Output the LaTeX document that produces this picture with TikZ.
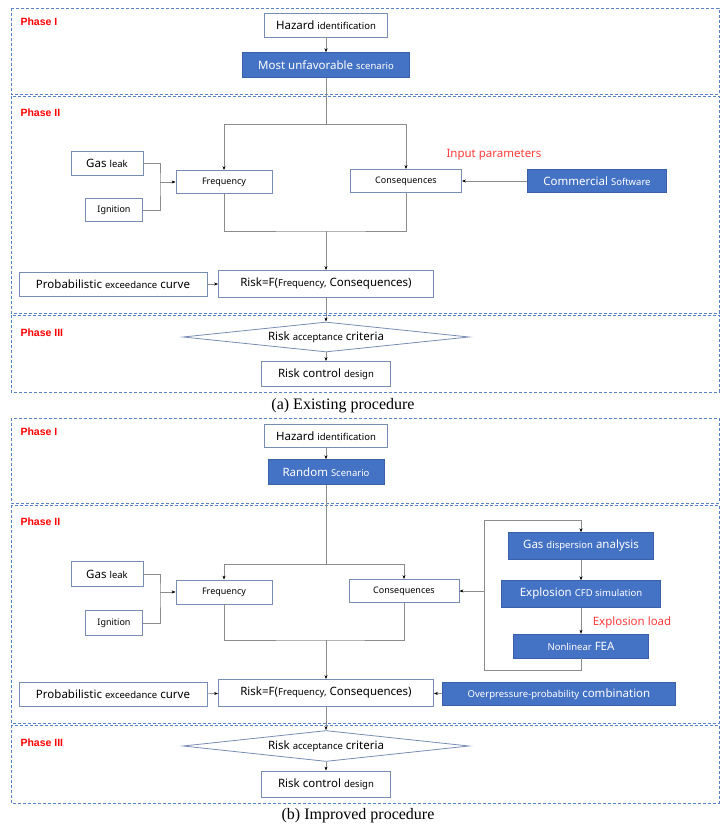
\documentclass[tikz,border=0pt]{standalone}
\usepackage{fontspec}
\setmainfont{Liberation Serif}
\newfontfamily\uifont{Noto Sans}
\newfontfamily\tagfont{Liberation Sans}
\usetikzlibrary{arrows.meta,shapes.geometric}
\definecolor{boxblue}{RGB}{68,114,196}
\definecolor{boxedge}{RGB}{120,140,180}
\definecolor{phaseblue}{RGB}{90,130,200}
\definecolor{linegray}{RGB}{140,140,140}
\definecolor{inputred}{RGB}{255,60,60}
\newcommand{\sm}[1]{{\fontsize{9.5}{11}\selectfont #1}}

\begin{document}
\begin{tikzpicture}[x=1pt, y=-1pt,
    every node/.style={font=\uifont\fontsize{11.5}{14}\selectfont},
    plain/.style={draw=boxedge, fill=white, inner sep=0pt, line width=0.8pt},
    filled/.style={draw=boxblue!85!black, fill=boxblue, text=white, inner sep=0pt},
    phase/.style={draw=phaseblue, dash pattern=on 3pt off 2pt, line width=0.9pt},
    phasetag/.style={anchor=west, text=red, font=\tagfont\bfseries\fontsize{10.5}{12}\selectfont},
    line/.style={draw=linegray, line width=0.6pt},
    arr/.style={line, -{Stealth[length=4pt, width=3pt, color=black]}},
    caption/.style={font=\rmfamily\fontsize{16}{19}\selectfont}]
    \useasboundingbox (0,0) rectangle (721,829);

    % (a) Existing procedure
    \draw[phase] (11,8) rectangle (719,94);
    \draw[phase] (11,96) rectangle (719,313);
    \draw[phase] (11,315) rectangle (719,392);
    \node[phasetag] (p1A) at (17,22) {Phase I};
    \node[phasetag] (p2A) at (17,113) {Phase II};
    \node[phasetag] (p3A) at (17,333) {Phase III};

    \node[plain, minimum width=123, minimum height=24] (hazA) at (326,25) {Hazard \sm{identification}};
    \node[filled, minimum width=167, minimum height=25] (scenA) at (326,65) {Most unfavorable \sm{scenario}};
    \coordinate (splitA) at (326,124);
    \node[plain, minimum width=96, minimum height=23, font=\uifont\small] (freqA) at (224,182) {Frequency};
    \node[plain, minimum width=111, minimum height=23, font=\uifont\small] (consA) at (406,181) {Consequences};
    \node[plain, minimum width=72, minimum height=24] (gasA) at (107,163) {Gas \sm{leak}};
    \node[plain, minimum width=57, minimum height=23, font=\uifont\small] (ignA) at (114,210) {Ignition};
    \coordinate (joinA) at (160,182);
    \node[filled, minimum width=139, minimum height=23] (softA) at (597,181) {Commercial \sm{Software}};
    \node[text=inputred] (inA) at (494,155) {Input parameters};
    \coordinate (mergeA) at (326,231);
    \node[plain, minimum width=215, minimum height=27] (riskA) at (326,284) {Risk=F(\sm{Frequency,} Consequences)};
    \node[plain, minimum width=188, minimum height=24] (probA) at (113,284) {Probabilistic \sm{exceedance} curve};
    \node[plain, diamond, aspect=9.5, minimum width=286, minimum height=30] (critA) at (326,337) {Risk \sm{acceptance} criteria};
    \node[plain, minimum width=129, minimum height=25] (ctrlA) at (326,374) {Risk control \sm{design}};
    \node[caption] (capA) at (343,406) {(a) Existing procedure};

    \draw[arr] (hazA) -- (scenA);
    \draw[line] (scenA) -- (splitA);
    \draw[arr] (splitA) -| (freqA);
    \draw[arr] (splitA) -| (consA);
    \draw[line] (gasA) -| (joinA) |- (ignA);
    \draw[arr] (joinA) -- (freqA);
    \draw[arr] (softA) -- (consA);
    \draw[line] (freqA) |- (mergeA) -| (consA);
    \draw[arr] (mergeA) -- (riskA);
    \draw[arr] (probA) -- (riskA);
    \draw[arr] (riskA) -- (critA);
    \draw[arr] (critA) -- (ctrlA);

    % (b) Improved procedure
    \draw[phase] (11,418) rectangle (719,503);
    \draw[phase] (11,505) rectangle (719,723);
    \draw[phase] (11,725) rectangle (719,803);
    \node[phasetag] (p1B) at (17,432) {Phase I};
    \node[phasetag] (p2B) at (17,522) {Phase II};
    \node[phasetag] (p3B) at (17,743) {Phase III};

    \node[plain, minimum width=123, minimum height=23] (hazB) at (326,436) {Hazard \sm{identification}};
    \node[filled, minimum width=116, minimum height=25] (scenB) at (326,472) {Random \sm{Scenario}};
    \coordinate (splitB) at (326,564);
    \node[plain, minimum width=96, minimum height=24, font=\uifont\small] (freqB) at (224,592) {Frequency};
    \node[plain, minimum width=110, minimum height=23, font=\uifont\small] (consB) at (404,591) {Consequences};
    \node[plain, minimum width=72, minimum height=25] (gasB) at (107,574) {Gas \sm{leak}};
    \node[plain, minimum width=57, minimum height=25, font=\uifont\small] (ignB) at (114,623) {Ignition};
    \coordinate (joinB) at (160,592);
    \node[filled, minimum width=145, minimum height=27] (gdaB) at (581,546) {Gas \sm{dispersion} analysis};
    \node[filled, minimum width=159, minimum height=27] (cfdB) at (581,594) {Explosion \sm{CFD simulation}};
    \node[text=inputred] (loadB) at (632,623) {Explosion load};
    \node[filled, minimum width=135, minimum height=24] (feaB) at (581,646) {\sm{Nonlinear} FEA};
    \coordinate (loopT) at (484,520);
    \coordinate (loopM) at (484,591);
    \coordinate (loopB) at (484,670);
    \coordinate (mergeB) at (326,640);
    \node[plain, minimum width=215, minimum height=27] (riskB) at (326,693) {Risk=F(\sm{Frequency,} Consequences)};
    \node[plain, minimum width=188, minimum height=24] (probB) at (113,694) {Probabilistic \sm{exceedance} curve};
    \node[filled, minimum width=233, minimum height=23] (overB) at (559,694) {\sm{Overpressure-probability} combination};
    \node[plain, diamond, aspect=9.5, minimum width=286, minimum height=31] (critB) at (326,746) {Risk \sm{acceptance} criteria};
    \node[plain, minimum width=129, minimum height=26] (ctrlB) at (326,784) {Risk control \sm{design}};
    \node[caption] (capB) at (358,816) {(b) Improved procedure};

    \draw[arr] (hazB) -- (scenB);
    \draw[line] (scenB) -- (splitB);
    \draw[arr] (splitB) -| (freqB);
    \draw[arr] (splitB) -| (consB);
    \draw[line] (gasB) -| (joinB) |- (ignB);
    \draw[arr] (joinB) -- (freqB);
    \draw[arr] (gdaB) -- (cfdB);
    \draw[arr] (cfdB) -- (feaB);
    \draw[line] (feaB) |- (loopB) -- (loopT);
    \draw[arr] (loopT) -| (gdaB);
    \draw[arr] (loopM) -- (consB);
    \draw[line] (freqB) |- (mergeB) -| (consB);
    \draw[arr] (mergeB) -- (riskB);
    \draw[arr] (probB) -- (riskB);
    \draw[arr] (overB) -- (riskB);
    \draw[arr] (riskB) -- (critB);
    \draw[arr] (critB) -- (ctrlB);
\end{tikzpicture}
\end{document}
